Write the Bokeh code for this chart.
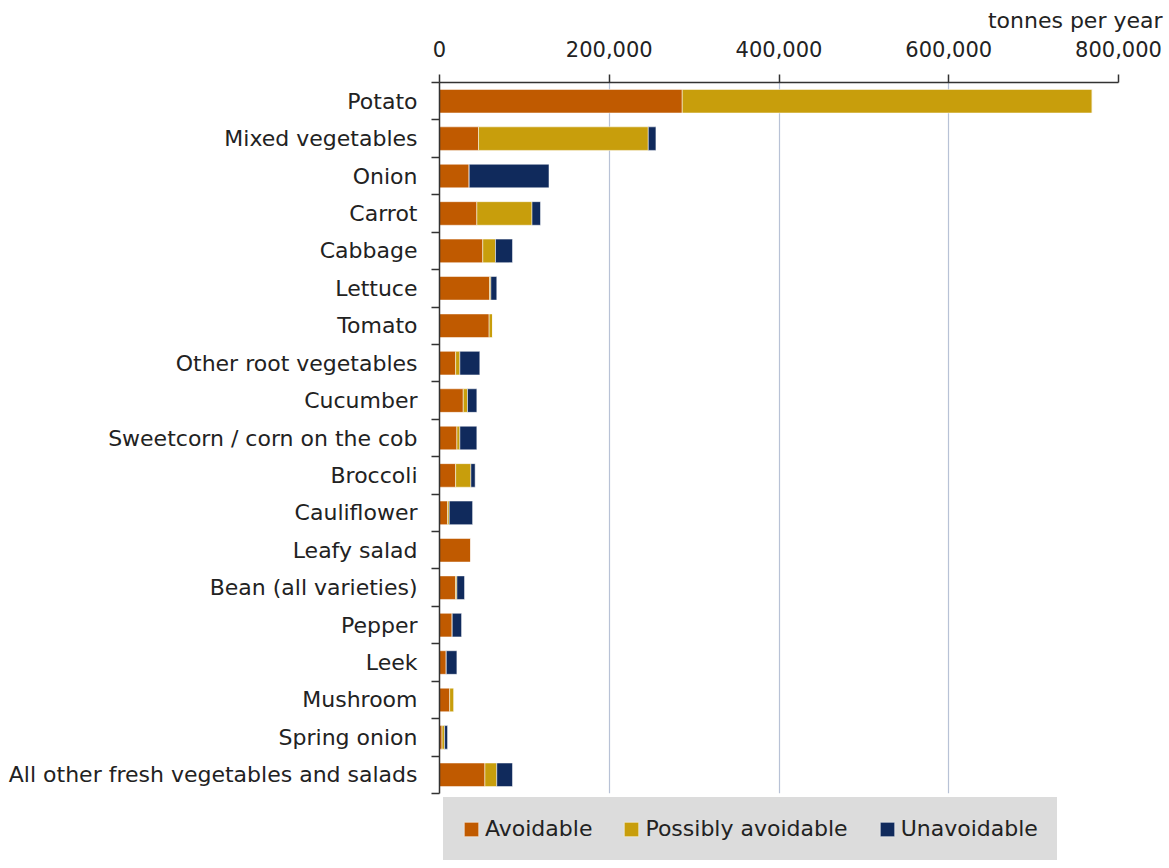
from bokeh.plotting import figure
from bokeh.models import (Range1d, FixedTicker, Legend, LegendItem, ColumnDataSource,
                          Title, NumeralTickFormatter)
from bokeh.embed import file_html
from bokeh.resources import INLINE

categories = ["Potato", "Mixed vegetables", "Onion", "Carrot", "Cabbage", "Lettuce",
              "Tomato", "Other root vegetables", "Cucumber", "Sweetcorn / corn on the cob",
              "Broccoli", "Cauliflower", "Leafy salad", "Bean (all varieties)", "Pepper",
              "Leek", "Mushroom", "Spring onion", "All other fresh vegetables and salads"]
avoidable = [286000, 46000, 35000, 44000, 51000, 59000, 58500, 19000, 28000, 20500,
             19000, 9500, 37000, 19000, 15000, 8000, 12000, 3000, 53500]
possibly_avoidable = [483000, 200000, 0, 65000, 15000, 1500, 4000, 5000, 5000, 3500,
                      18000, 2000, 0, 1500, 0, 0, 5000, 3000, 14000]
unavoidable = [0, 9000, 94000, 10000, 20000, 7000, 0, 23500, 11000, 20000,
               5000, 27500, 0, 9000, 11000, 12500, 0, 3500, 18500]
series_names = ["Avoidable", "Possibly avoidable", "Unavoidable"]
colors = ["#C05A00", "#C89E0C", "#102A5C"]
x_ticks = [0, 200000, 400000, 600000, 800000]
unit_label = "tonnes per year"

FONT = "DejaVu Sans"
n = len(categories)
positions = [i + 0.5 for i in range(n)]
boundaries = list(range(n + 1))

source = ColumnDataSource(dict(y=positions, cat=categories, a=avoidable,
                               p=possibly_avoidable, u=unavoidable))

p = figure(frame_width=679, frame_height=711, x_range=Range1d(x_ticks[0], x_ticks[-1]),
           y_range=Range1d(n, 0), x_axis_location="above",
           output_backend="svg", toolbar_location=None,
           min_border_left=439, min_border_right=46, min_border_top=77,
           min_border_bottom=50)
p.background_fill_color = "white"
p.border_fill_color = "white"
p.outline_line_color = None

renderers = p.hbar_stack(["a", "p", "u"], y="y", height=0.63, color=colors,
                         line_color="white", line_alpha=0.5, line_width=1,
                         source=source)

# axes
xa = p.xaxis[0]
xa.ticker = FixedTicker(ticks=x_ticks)
xa.formatter = NumeralTickFormatter(format="0,0")
xa.major_tick_out = 8
xa.major_tick_in = 0
xa.minor_tick_out = 0
xa.minor_tick_in = 0
xa.axis_line_color = "#333333"
xa.axis_line_width = 1.5
xa.major_tick_line_color = "#333333"
xa.major_tick_line_width = 1.5
xa.major_label_text_font = FONT
xa.major_label_text_font_size = "21px"
xa.major_label_text_color = "#222222"
xa.major_label_standoff = 18

ya = p.yaxis[0]
ya.ticker = FixedTicker(ticks=positions, minor_ticks=boundaries)
ya.major_label_overrides = {pos: c for pos, c in zip(positions, categories)}
ya.major_tick_out = 0
ya.major_tick_in = 0
ya.minor_tick_out = 8
ya.minor_tick_in = 0
ya.minor_tick_line_color = "#333333"
ya.minor_tick_line_width = 1.5
ya.axis_line_color = "#333333"
ya.axis_line_width = 1.5
ya.major_label_text_font = FONT
ya.major_label_text_font_size = "22px"
ya.major_label_text_color = "#222222"
ya.major_label_standoff = 14

p.xgrid.ticker = FixedTicker(ticks=x_ticks[1:-1])
p.xgrid.grid_line_color = "#B8C2D6"
p.xgrid.grid_line_width = 1.2
p.ygrid.visible = False

p.add_layout(Title(text=unit_label, align="right", offset=-44, text_font=FONT,
                   text_font_size="22px", text_font_style="normal",
                   text_color="#222222"), "above")

legend = Legend(items=[LegendItem(label=nm, renderers=[r]) for nm, r in zip(series_names, renderers)],
                orientation="horizontal", location="top_left",
                background_fill_color="#DCDCDC", background_fill_alpha=1.0,
                border_line_color="#DCDCDC", border_line_width=1,
                label_text_font=FONT,
                label_text_font_size="22px", label_text_color="#222222",
                glyph_width=18, glyph_height=18, label_standoff=5, spacing=30,
                padding=18, margin=4)
p.add_layout(legend, "below")

open("out.html", "w").write(file_html(p, INLINE))
